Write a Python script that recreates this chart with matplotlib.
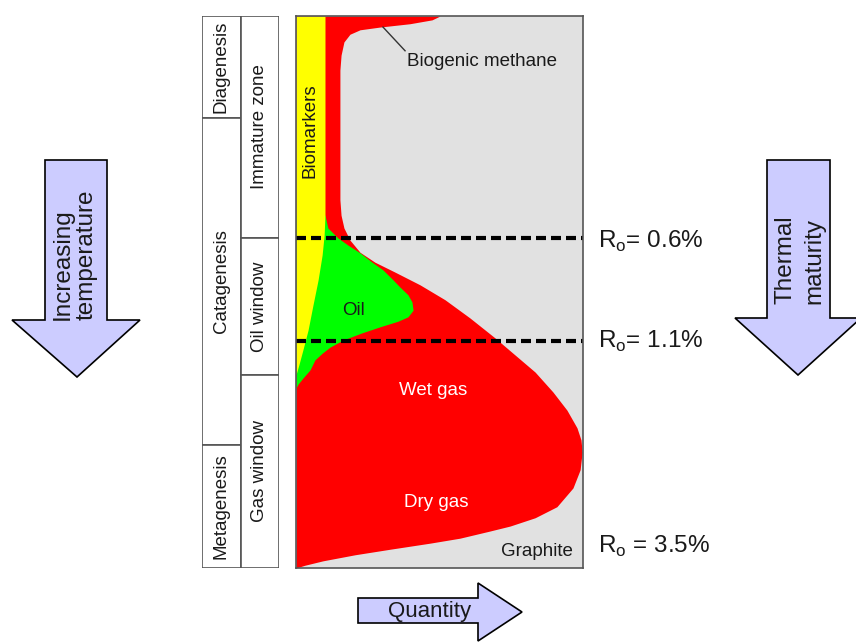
import matplotlib.pyplot as plt
from matplotlib.patches import Polygon, Rectangle

plt.rcParams['font.family'] = ['Liberation Sans', 'DejaVu Sans']
plt.rcParams['mathtext.fontset'] = 'custom'
plt.rcParams['mathtext.rm'] = 'Liberation Sans'

# Quantity (0-100, left to right) against maturity depth (0 = top, 100 = bottom)
# outer edge of the gas (red) envelope, incl. the biogenic methane bump at the top
gas_depth = [0, 0.7, 1.4, 2.0, 2.5, 3.3, 4.7, 7.1, 9.8, 33.3, 36.1, 38.4, 40.6, 42.8,
             44.6, 46.4, 48.7, 51.4, 54.7, 58.3, 61.4, 64.5, 68.1, 71.4, 74.6, 76.8,
             79.0, 82.2, 85.5, 88.9, 90.9, 92.4, 93.3, 94.6, 95.5, 96.6, 97.6, 98.7,
             99.5, 100]
gas_qty = [50.2, 47.4, 39.7, 29.3, 22.3, 18.8, 16.7, 15.7, 15.3, 15.3, 15.7, 16.7, 18.8,
           22.3, 27.5, 34.5, 43.2, 51.9, 60.6, 69.3, 76.3, 83.3, 89.5, 94.4, 97.9, 99.3,
           99.7, 99.0, 96.5, 90.9, 83.3, 74.6, 67.6, 57.1, 46.7, 32.8, 20.6, 9.4,
           3.1, 0]

# biomarkers (yellow)
bio_depth = [0, 36.1, 39.7, 43.3, 47.8, 52.4, 56.9, 60.5, 63.2, 65.0]
bio_qty = [10.1, 10.1, 9.8, 9.1, 7.7, 5.9, 4.2, 2.4, 1.0, 0]

# oil (green)
oil_depth = [36.1, 38.4, 40.2, 41.5, 42.9, 44.6, 46.0, 47.8, 49.1, 50.5, 51.8, 53.3,
             54.5, 55.3, 56.3, 57.4, 58.7, 60.0, 61.1, 62.3, 64.1, 65.6, 66.7, 67.4]
oil_qty = [10.1, 11.1, 14.6, 18.1, 22.3, 26.5, 30.3, 33.8, 36.2, 39.0, 40.4, 40.8,
           39.0, 35.5, 29.3, 23.0, 16.4, 11.8, 9.1, 6.6, 4.9, 2.4, 0.7, 0]

stage_names = ['Diagenesis', 'Catagenesis', 'Metagenesis']
stage_bounds = [0, 18.5, 77.7, 100]
zone_names = ['Immature zone', 'Oil window', 'Gas window']
zone_bounds = [0, 40.2, 65.0, 100]

ro_labels = [r'R$_\mathrm{o}$= 0.6%', r'R$_\mathrm{o}$= 1.1%', r'R$_\mathrm{o}$ = 3.5%']
ro_line_depth = [40.2, 58.9]
ro_text_depth = [42.0, 60.1, 97.3]

W, H = 856, 644
fig = plt.figure(figsize=(W / 100, H / 100), dpi=100)

# overlay in pixel units for the big arrows
over = fig.add_axes([0, 0, 1, 1])
over.set_xlim(0, W)
over.set_ylim(H, 0)
over.axis('off')

arrow_fc = '#ccccff'
left_arrow = [(45, 160), (107, 160), (107, 320), (140, 320), (77, 377), (12, 320), (45, 320)]
right_arrow = [(767, 160), (830, 160), (830, 318), (861, 318), (798, 375), (735, 318), (767, 318)]
bottom_arrow = [(358, 598), (478, 598), (478, 583), (522, 612), (478, 641), (478, 623), (358, 623)]
for pts in [left_arrow, right_arrow, bottom_arrow]:
    over.add_patch(Polygon(pts, closed=True, fc=arrow_fc, ec='black', lw=1.2))

txt = '#1a1a1a'
over.text(63, 320, 'Increasing', rotation=90, ha='center', va='bottom', fontsize=17.5, color=txt)
over.text(87, 320, 'temperature', rotation=90, ha='center', va='bottom', fontsize=17.5, color=txt)
over.text(786, 304, 'Thermal', rotation=90, ha='center', va='bottom', fontsize=17.5, color=txt)
over.text(814, 304, 'maturity', rotation=90, ha='center', va='bottom', fontsize=17.5, color=txt)
over.text(430, 611, 'Quantity', ha='center', va='center', fontsize=16, color=txt)

# main panel
ax = fig.add_axes([296 / W, 1 - 568 / H, 287 / W, 552 / H])
ax.set_xlim(0, 100)
ax.set_ylim(100, 0)
ax.set_facecolor('#e1e1e1')
ax.set_xticks([])
ax.set_yticks([])
for s in ax.spines.values():
    s.set_color('#555555')
    s.set_linewidth(1.2)

ax.fill_betweenx(gas_depth, 0, gas_qty, color='#ff0000', lw=0)
ax.fill_betweenx(oil_depth, 0, oil_qty, color='#00ff00', lw=0)
ax.fill_betweenx(bio_depth, 0, bio_qty, color='#ffff00', lw=0)

for d in ro_line_depth:
    ax.axhline(d, color='black', lw=3, dashes=(2.4, 1.2))

ax.plot([30.3, 38.0], [2.0, 6.3], color='#333333', lw=1)
ax.text(64.8, 8.3, 'Biogenic methane', ha='center', va='center', fontsize=13.5, color=txt)
ax.text(5.0, 20.7, 'Biomarkers', rotation=90, ha='center', va='center', fontsize=13.5, color=txt)
ax.text(19.9, 53.3, 'Oil', ha='center', va='center', fontsize=13.5, color=txt)
ax.text(47.7, 67.8, 'Wet gas', ha='center', va='center', fontsize=13.5, color='white')
ax.text(48.8, 88.2, 'Dry gas', ha='center', va='center', fontsize=13.5, color='white')
ax.text(96.5, 97.1, 'Graphite', ha='right', va='center', fontsize=13.5, color=txt)

for lab, d in zip(ro_labels, ro_text_depth):
    ax.text(105.2, d, lab, ha='left', va='baseline', fontsize=17.5, color=txt)

# stratigraphy columns
col = fig.add_axes([202 / W, 1 - 568 / H, 77 / W, 552 / H])
col.set_xlim(0, 2)
col.set_ylim(100, 0)
col.axis('off')
for i, (names, bounds) in enumerate([(stage_names, stage_bounds), (zone_names, zone_bounds)]):
    for j, name in enumerate(names):
        col.add_patch(Rectangle((i, bounds[j]), 1, bounds[j + 1] - bounds[j],
                                fc='white', ec='#555555', lw=1.2))
        col.text(i + 0.5, (bounds[j] + bounds[j + 1]) / 2, name, rotation=90,
                 ha='center', va='center', fontsize=13.5, color=txt)

fig.savefig('out.png', dpi=100)
